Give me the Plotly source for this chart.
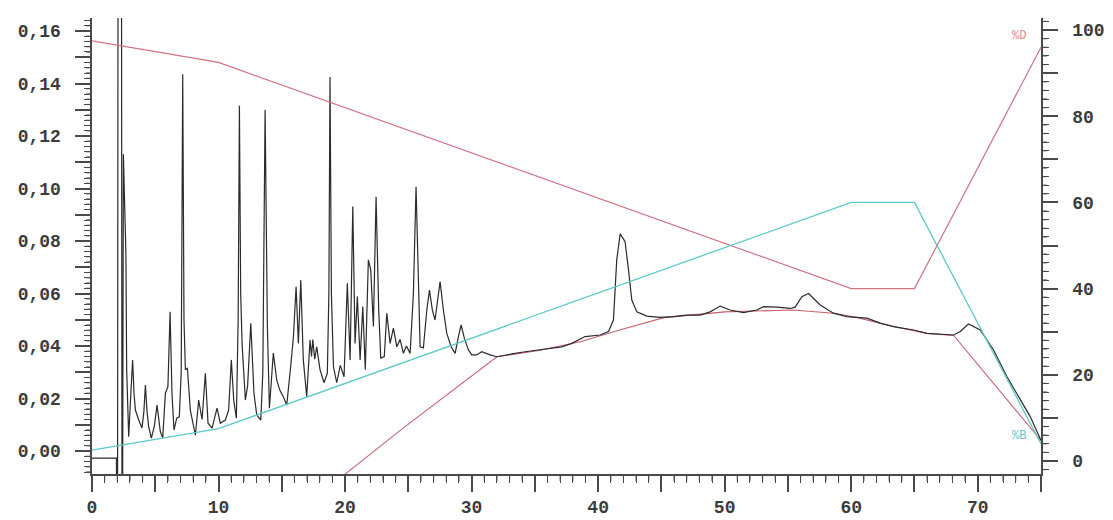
import plotly.graph_objects as go

# ---------------- data ----------------
# Chromatogram (absorbance, left axis)
chrom_time = [
    0.0, 1.93, 1.95, 2.02, 2.06, 2.33, 2.37, 2.42, 2.48, 2.56, 2.62, 2.68, 2.74, 2.90,
    3.05, 3.21, 3.32, 3.43, 3.69, 3.95, 4.10, 4.22, 4.35, 4.48, 4.69, 4.92, 5.14, 5.40,
    5.59, 5.80, 6.00, 6.17, 6.32, 6.48, 6.70, 6.90, 7.05, 7.17, 7.27, 7.38, 7.54, 7.77,
    8.17, 8.43, 8.70, 8.96, 9.17, 9.49, 9.88, 10.14, 10.54, 10.80, 11.01, 11.20, 11.41,
    11.55, 11.65, 11.75, 11.86, 12.12, 12.30, 12.55, 12.80, 13.02, 13.34, 13.50, 13.68,
    13.80, 13.86, 14.02, 14.33, 14.60, 14.86, 15.12, 15.39, 15.70, 15.92, 16.13, 16.31,
    16.50, 16.70, 16.97, 17.23, 17.35, 17.45, 17.60, 17.76, 18.02, 18.34, 18.60, 18.72,
    18.81, 18.92, 19.08, 19.34, 19.62, 19.92, 20.18, 20.40, 20.61, 20.79, 20.97, 21.19,
    21.40, 21.60, 21.84, 22.03, 22.24, 22.45, 22.66, 22.82, 23.10, 23.30, 23.56, 23.82,
    24.09, 24.35, 24.61, 24.85, 25.14, 25.40, 25.61, 25.80, 25.93, 26.19, 26.46, 26.67,
    26.90, 27.11, 27.30, 27.51, 27.77, 28.04, 28.38, 28.70, 28.96, 29.17, 29.43, 29.75,
    30.01, 30.41, 30.80, 31.10, 31.46, 32.00, 32.65, 33.44, 34.23, 35.28, 36.34, 37.13,
    37.92, 38.97, 40.16, 40.82, 41.21, 41.47, 41.74, 42.13, 42.40, 42.66, 43.06, 43.85,
    44.90, 45.95, 47.00, 48.06, 48.85, 49.64, 50.43, 51.49, 52.54, 53.07, 54.13, 55.18,
    55.57, 56.10, 56.63, 57.55, 58.60, 59.66, 61.24, 62.29, 63.35, 64.93, 65.98, 67.04,
    68.09, 68.62, 69.27, 70.20, 71.25, 72.31, 73.36, 74.15, 75.00,
]
chrom_abs = [
    -0.0027, -0.0027, -0.02, -0.02, 0.20, 0.20, -0.02, -0.02, 0.113, 0.100, 0.084, 0.075, 0.031, 0.0054,
    0.020, 0.0347, 0.022, 0.0156, 0.0118, 0.0088, 0.015, 0.0251, 0.015, 0.0093, 0.0049, 0.0093, 0.0175, 0.0074,
    0.0050, 0.0220, 0.0245, 0.053, 0.022, 0.008, 0.0126, 0.013, 0.030, 0.1435, 0.050, 0.031, 0.0315, 0.0156,
    0.006, 0.0194, 0.012, 0.0296, 0.0106, 0.0087, 0.0163, 0.0106, 0.0118, 0.0156, 0.0347, 0.0194, 0.0125,
    0.050, 0.1315, 0.060, 0.041, 0.0194, 0.025, 0.0487, 0.022, 0.0137, 0.0118, 0.030, 0.1300,
    0.060, 0.0474, 0.0163, 0.0373, 0.027, 0.023, 0.0207, 0.0175, 0.0321, 0.0436, 0.0626, 0.041,
    0.0651, 0.0347, 0.0207, 0.0423, 0.036, 0.0425, 0.035, 0.0397, 0.031, 0.026, 0.0297, 0.060,
    0.1425, 0.060, 0.0321, 0.026, 0.0326, 0.0283, 0.0639, 0.0347, 0.0931, 0.041, 0.0588, 0.0347,
    0.055, 0.031, 0.0728, 0.069, 0.0474, 0.0969, 0.0537, 0.0354, 0.036, 0.0525, 0.041, 0.0468,
    0.0397, 0.0425, 0.0372, 0.040, 0.0372, 0.060, 0.1007, 0.0664, 0.0397, 0.0393, 0.0537, 0.0613,
    0.0537, 0.0499, 0.0575, 0.0645, 0.0537, 0.0448, 0.0397, 0.0372, 0.0436, 0.048, 0.0429, 0.0385,
    0.0366, 0.0366, 0.0378, 0.0372, 0.0366, 0.0359, 0.0366, 0.0372, 0.0378, 0.0385, 0.039, 0.0397,
    0.041, 0.0436, 0.0442, 0.0455, 0.0499, 0.0728, 0.0827, 0.0797, 0.069, 0.0575, 0.053, 0.0514,
    0.0509, 0.0512, 0.0518, 0.0518, 0.053, 0.0552, 0.0537, 0.0527, 0.0537, 0.055, 0.0548, 0.0543,
    0.0548, 0.0588, 0.0600, 0.0556, 0.0525, 0.0512, 0.0506, 0.0487, 0.0474, 0.0461, 0.0448, 0.0446,
    0.0442, 0.0455, 0.0484, 0.0461, 0.0385, 0.0283, 0.0194, 0.0131, 0.0040,
]

# Red baseline trace (left axis)
base_time = [20.0, 24.74, 32.0, 35.3, 38.6, 41.7, 45.2, 48.0, 50.0, 55.4, 58.6, 60.5, 63.3, 66.0, 68.1, 75.0]
base_abs = [-0.0088, 0.0093, 0.0359, 0.0383, 0.0416, 0.0461, 0.0508, 0.0522, 0.0530, 0.0537,
            0.0525, 0.0508, 0.0474, 0.0448, 0.0440, 0.0040]

# Gradient programme (right axis, %)
grad_time = [0, 10, 60, 65, 75]
pct_D = [97.5, 92.5, 40, 40, 96]
pct_B = [2.5, 7.5, 60, 60, 4]

# Tick labels
x_tick_vals = [0, 10, 20, 30, 40, 50, 60, 70]
x_tick_text = ["0", "10", "20", "30", "40", "50", "60", "70"]
y_left_tick_vals = [0.00, 0.02, 0.04, 0.06, 0.08, 0.10, 0.12, 0.14, 0.16]
y_left_tick_text = ["0,00", "0,02", "0,04", "0,06", "0,08", "0,10", "0,12", "0,14", "0,16"]
y_right_tick_vals = [0, 20, 40, 60, 80, 100]
y_right_tick_text = ["0", "20", "40", "60", "80", "100"]

# Axis ranges
x_range = [0, 75]
y_left_range = [-0.00876, 0.16495]
y_right_range = [-3.02, 102.8]

# plot-area size in px (used to express small tick lengths in paper units)
PLOT_W, PLOT_H = 949, 456


def with_mid_ticks(vals, texts, step, pad_left="", pad_right=""):
    """Labelled ticks plus an unlabelled tick half-way between them."""
    v_out, t_out = [], []
    for v, t in zip(vals, texts):
        v_out += [v, v + step / 2]
        t_out += [pad_left + t + pad_right, ""]
    return v_out, t_out


def positions(lo, hi, step):
    n0 = int(round(lo / step))
    n1 = int(round(hi / step))
    return [round(i * step, 6) for i in range(n0, n1 + 1)]


xv, xt = with_mid_ticks(x_tick_vals, x_tick_text, 10)
ylv, ylt = with_mid_ticks(y_left_tick_vals, y_left_tick_text, 0.02, pad_right=" ")
yrv, yrt = with_mid_ticks(y_right_tick_vals, y_right_tick_text, 20, pad_left=" ")

AX = "#4a4a4a"
TICKFONT = dict(family="Liberation Mono, Courier New, monospace", size=18, color="#3c3c3c", weight="bold")
RED = "#d27382"
CYAN = "#5cc9c6"

fig = go.Figure()
fig.add_trace(go.Scatter(x=grad_time, y=pct_D, mode="lines", yaxis="y2",
                         line=dict(color=RED, width=1.2), showlegend=False, hoverinfo="skip"))
fig.add_trace(go.Scatter(x=grad_time, y=pct_B, mode="lines", yaxis="y2",
                         line=dict(color=CYAN, width=1.3), showlegend=False, hoverinfo="skip"))
fig.add_trace(go.Scatter(x=base_time, y=base_abs, mode="lines", yaxis="y",
                         line=dict(color="#c8606e", width=1.1), showlegend=False, hoverinfo="skip"))
fig.add_trace(go.Scatter(x=chrom_time, y=chrom_abs, mode="lines", yaxis="y",
                         line=dict(color="#2b2b2b", width=1.2), showlegend=False, hoverinfo="skip"))

# small minor tick marks, placed through the axes' own scales
tick_shapes = []
for v in positions(0, 75, 1):
    tick_shapes.append(dict(type="line", xref="x", yref="paper", x0=v, x1=v, y0=0, y1=-7 / PLOT_H,
                            line=dict(color=AX, width=1.1), layer="above"))
for v in positions(-0.008, 0.164, 0.002):
    tick_shapes.append(dict(type="line", xref="paper", yref="y", x0=0, x1=-6 / PLOT_W, y0=v, y1=v,
                            line=dict(color=AX, width=1.1), layer="above"))
for v in positions(-2, 102, 2):
    tick_shapes.append(dict(type="line", xref="paper", yref="y2", x0=1, x1=1 + 6 / PLOT_W, y0=v, y1=v,
                            line=dict(color=AX, width=1.1), layer="above"))

# page body has an 8px margin -> compensate so the plot area sits at x 92..1041, y 18..474
fig.update_layout(
    width=1113, height=520,
    margin=dict(l=84, r=80, t=10, b=54, autoexpand=False),
    paper_bgcolor="white", plot_bgcolor="white",
    showlegend=False,
    shapes=tick_shapes,
    xaxis=dict(range=x_range, tickmode="array", tickvals=xv, ticktext=xt,
               showgrid=False, zeroline=False, automargin=False,
               showline=True, linecolor=AX, linewidth=1.5,
               ticks="outside", ticklen=16, tickwidth=1.5, tickcolor=AX,
               minor=dict(dtick=1, tick0=0, ticks="outside", ticklen=7, tickwidth=1.2, tickcolor=AX),
               tickfont=TICKFONT),
    yaxis=dict(range=y_left_range, tickmode="array", tickvals=ylv, ticktext=ylt, automargin=False,
               showgrid=False, zeroline=False, showline=True, linecolor=AX, linewidth=1.5,
               ticks="outside", ticklen=15, tickwidth=1.5, tickcolor=AX,
               minor=dict(dtick=0.002, tick0=0, ticks="outside", ticklen=6, tickwidth=1.1, tickcolor=AX),
               tickfont=TICKFONT),
    yaxis2=dict(range=y_right_range, overlaying="y", anchor="x", side="right", automargin=False,
                tickmode="array", tickvals=yrv, ticktext=yrt,
                showgrid=False, zeroline=False, showline=True, linecolor=AX, linewidth=1.5,
                ticks="outside", ticklen=15, tickwidth=1.5, tickcolor=AX,
                minor=dict(dtick=2, tick0=0, ticks="outside", ticklen=6, tickwidth=1.1, tickcolor=AX),
                tickfont=TICKFONT),
    annotations=[
        dict(text="%D", x=73.3, y=98.6, xref="x", yref="y2", showarrow=False,
             font=dict(family="Liberation Mono, monospace", size=12, color="#de8a98")),
        dict(text="%B", x=73.3, y=5.8, xref="x", yref="y2", showarrow=False,
             font=dict(family="Liberation Mono, monospace", size=12, color="#5ccad0")),
    ],
)

fig.write_html("out.html")
